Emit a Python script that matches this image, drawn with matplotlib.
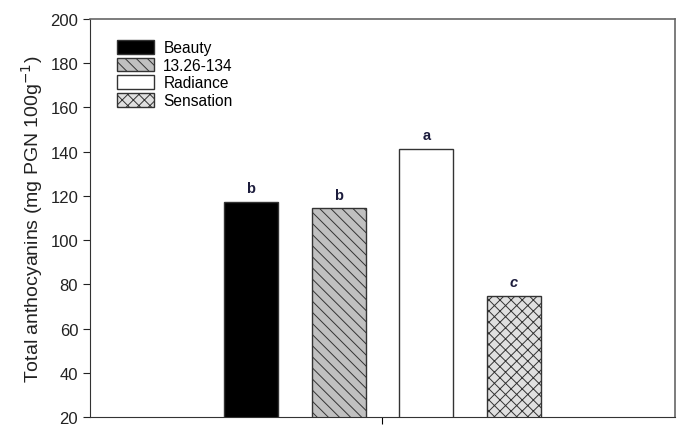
import numpy as np
import matplotlib
matplotlib.use("Agg")
from matplotlib import pyplot as plt

# Total anthocyanin content per cultivar
cultivars = ["Beauty", "13.26-134", "Radiance", "Sensation"]
anthocyanins = [117.3, 114.3, 141.2, 74.8]
letters = ["b", "b", "a", "c"]

plt.rcParams['font.family'] = ['Liberation Sans', 'DejaVu Sans']
plt.rcParams['hatch.linewidth'] = 0.7

fills = ["black", "#c0c0c0", "white", "#e0e0e0"]
hatches = [None, "\\\\\\", None, "xxx"]
letter_styles = ["normal", "normal", "normal", "italic"]

fig = plt.figure(figsize=(6.78, 4.27), dpi=100)
ax = fig.add_axes([0.1327, 0.0211, 0.8629, 0.9321])

x = np.arange(len(cultivars)) - 1.5
bars = ax.bar(x, anthocyanins, width=0.615, bottom=0,
              color=fills, edgecolor="#333333", linewidth=1.0,
              label=cultivars)
for b, h in zip(bars, hatches):
    if h:
        b.set_hatch(h)

for xi, v, lab, st in zip(x, anthocyanins, letters, letter_styles):
    ax.text(xi, v + 3, lab, ha="center", va="bottom", fontsize=10.5,
            fontweight="bold", style=st, color="#1c1c3c")

ax.set_ylim(20, 200)
ax.set_xlim(-3.335, 3.335)
ax.set_yticks(np.arange(20, 201, 20))
ax.set_xticks([0])
ax.set_xticklabels([""])
ax.tick_params(axis="y", direction="out", length=5, labelsize=12,
               colors="#222222")
ax.tick_params(axis="x", direction="out", length=5)
ax.set_ylabel("Total anthocyanins (mg PGN 100g$^{-1}$)", fontsize=14,
              color="#222222", labelpad=4)

for side in ["left", "bottom"]:
    ax.spines[side].set_color("#333333")
for side in ["top", "right"]:
    ax.spines[side].set_color("#666666")
    ax.spines[side].set_linewidth(1.2)

ax.legend(bars, cultivars, loc="upper left", frameon=False, fontsize=11.2,
          handlelength=2.4, handleheight=1.0, handletextpad=0.6,
          labelspacing=0.15, borderaxespad=0, bbox_to_anchor=(0.035, 0.963))

fig.savefig("out.png", dpi=100)
